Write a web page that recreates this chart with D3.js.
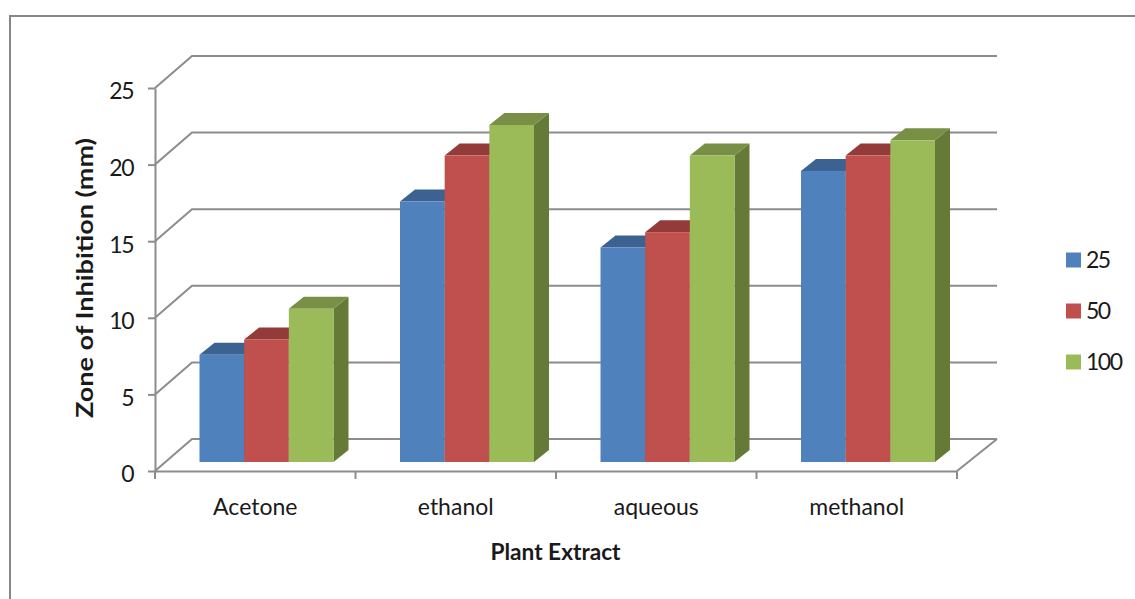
<!DOCTYPE html>
<html>
<head>
<meta charset="utf-8">
<script src="https://cdn.jsdelivr.net/npm/d3@7"></script>
<style>
html, body { margin: 0; padding: 0; background: #fff; }
svg { display: block; }
text { font-family: Lato, "Open Sans", sans-serif; fill: #1a1a1a; }
</style>
</head>
<body>
<svg id="chart" width="1135" height="599"></svg>
<script>
var categories = ["Acetone", "ethanol", "aqueous", "methanol"];
var seriesNames = ["25", "50", "100"];
var values25 = [7, 17, 14, 19];
var values50 = [8, 20, 15, 20];
var values100 = [10, 22, 20, 21];
var yTicks = [0, 5, 10, 15, 20, 25];

var allValues = [values25, values50, values100];
var colors = ["#4f81bd", "#c0504d", "#9bbb59"];
var topColors = ["#3c6291", "#933b39", "#788f45"];
var sideColors = ["#2f4d72", "#742f2d", "#667a38"];

var svg = d3.select("#chart");
var axisColor = "#8c8c8c";

// frame of the chart, runs off the right and bottom of the picture
svg.append("path")
    .attr("d", "M10,599V16H1135")
    .attr("fill", "none")
    .attr("stroke", "#868686")
    .attr("stroke-width", 2);

// depth of the wall and of the bars
var wallX = 37, wallY = 32;
var barX = 15, barY = 12;
var barBase = 462;

var x0 = d3.scaleBand().domain(categories).range([155, 957]);
var x1 = d3.scaleBand().domain(d3.range(3)).range([44.5, 178.5]);
var y = d3.scaleLinear().domain([0, 25]).range([471, 88]);

// gridlines on the back wall and side wall
var grid = svg.append("g")
    .attr("fill", "none")
    .attr("stroke", axisColor)
    .attr("stroke-width", 2);

grid.selectAll("path")
    .data(yTicks)
    .enter().append("path")
    .attr("d", d => "M155," + y(d) + "L" + (155 + wallX) + "," + (y(d) - wallY) + "H997");

grid.append("path")
    .attr("d", "M957,471L997," + (471 - wallY));

// axes
var yAxis = svg.append("g")
    .attr("transform", "translate(155,0)")
    .call(d3.axisLeft(y).tickValues(yTicks).tickSize(7).tickPadding(15).tickSizeOuter(0));

var xAxis = svg.append("g")
    .attr("transform", "translate(0,471)")
    .call(d3.axisBottom(x0).tickSize(0).tickPadding(28));

xAxis.selectAll("line.sep")
    .data(d3.range(5))
    .enter().append("line")
    .attr("class", "sep")
    .attr("x1", i => 155 + i * x0.step())
    .attr("x2", i => 155 + i * x0.step())
    .attr("y1", 0)
    .attr("y2", 8);

[yAxis, xAxis].forEach(function (a) {
    a.selectAll("path, line").attr("stroke", axisColor).attr("stroke-width", 2);
    a.selectAll("text").style("font-size", "23px").attr("fill", "#1a1a1a");
});

yAxis.selectAll("text")
    .attr("dy", "0.47em")
    .style("letter-spacing", "-1.5px");

// bars
categories.forEach(function (cat, c) {
    var g = svg.append("g").attr("transform", "translate(" + x0(cat) + ",0)");
    allValues.forEach(function (vals, s) {
        var left = x1(s);
        var right = left + x1.bandwidth();
        var top = barBase - (y(0) - y(vals[c]));

        g.append("polygon")
            .attr("points", [[right, barBase], [right + barX, barBase - barY], [right + barX, top - barY], [right, top]].join(" "))
            .attr("fill", sideColors[s]);
        g.append("polygon")
            .attr("points", [[left, top], [left + barX, top - barY], [right + barX, top - barY], [right, top]].join(" "))
            .attr("fill", topColors[s]);
        g.append("rect")
            .attr("x", left)
            .attr("y", top)
            .attr("width", x1.bandwidth())
            .attr("height", barBase - top)
            .attr("fill", colors[s]);
    });
});

// axis titles
svg.append("text")
    .attr("transform", "translate(93,278) rotate(-90)")
    .attr("text-anchor", "middle")
    .attr("textLength", 280)
    .attr("lengthAdjust", "spacingAndGlyphs")
    .style("font-size", "23px")
    .style("font-weight", "700")
    .text("Zone of Inhibition (mm)");

svg.append("text")
    .attr("x", 555.5)
    .attr("y", 560)
    .attr("text-anchor", "middle")
    .attr("textLength", 130)
    .attr("lengthAdjust", "spacingAndGlyphs")
    .style("font-size", "23px")
    .style("font-weight", "700")
    .text("Plant Extract");

// legend
var legendY = [260, 311, 362];
var legend = svg.selectAll("g.legend")
    .data(seriesNames)
    .enter().append("g")
    .attr("class", "legend")
    .attr("transform", (d, i) => "translate(1066," + legendY[i] + ")");

legend.append("rect")
    .attr("y", -7.5)
    .attr("width", 15)
    .attr("height", 15)
    .attr("fill", (d, i) => colors[i]);

legend.append("text")
    .attr("x", 20)
    .attr("y", 8)
    .style("font-size", "23px")
    .style("letter-spacing", "-1.5px")
    .text(d => d);
</script>
</body>
</html>
